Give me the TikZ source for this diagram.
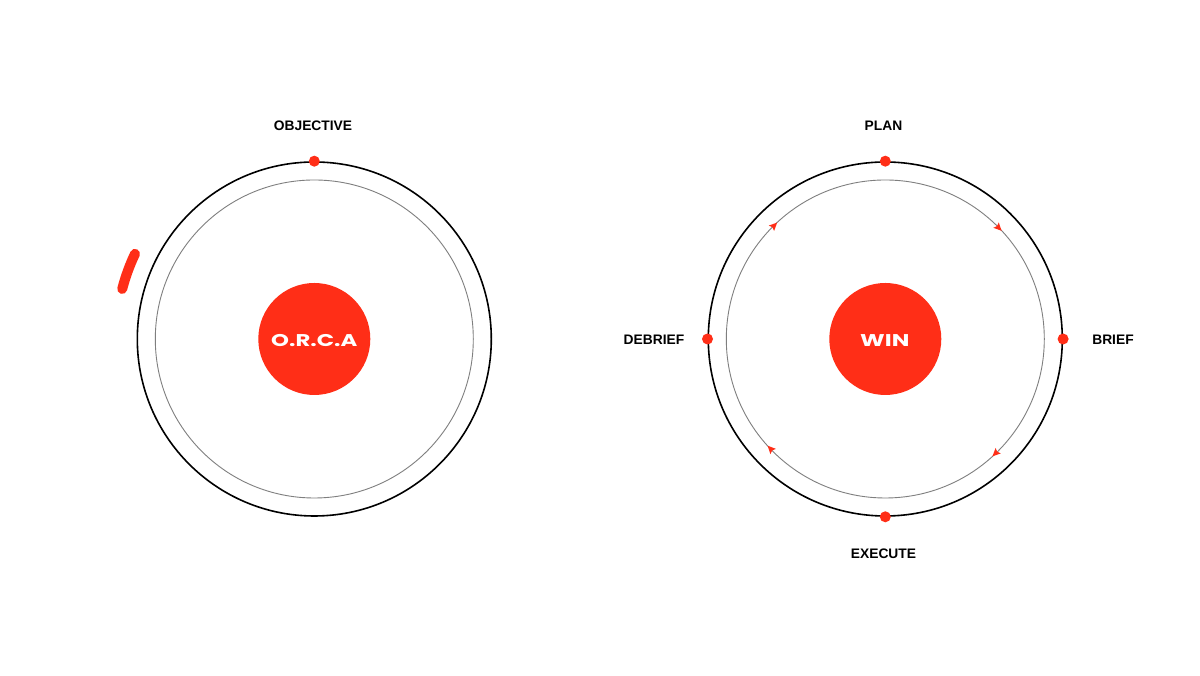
\documentclass[tikz,border=0pt]{standalone}
\usepackage{fontspec}
\usetikzlibrary{calc}
\setmainfont{Liberation Sans}
\newfontfamily\hubfont{Poppins}
\definecolor{orcared}{HTML}{FF2E17}
\definecolor{ringgrey}{HTML}{7F7F7F}
\tikzset{
  outerring/.style={circle,draw=black,line width=1.6pt,minimum size=354pt,inner sep=0pt,fill=none},
  innerring/.style={circle,draw=ringgrey,line width=0.9pt,minimum size=318pt,inner sep=0pt,fill=none},
  hub/.style={circle,fill=orcared,minimum size=112pt,inner sep=0pt},
  hubtext/.style={text=white,inner sep=0pt,font=\hubfont\bfseries\fontsize{17}{19}\selectfont},
  marker/.style={circle,fill=orcared,minimum size=11pt,inner sep=0pt},
  caption/.style={font=\bfseries\fontsize{13.8}{16}\selectfont,text=black,inner sep=0pt},
  tip/.style={fill=orcared}
}
\begin{document}
\begin{tikzpicture}[x=1pt,y=1pt]
\useasboundingbox (0,0) rectangle (1200,676);
\fill[white] (0,0) rectangle (1200,676);
% left diagram
\coordinate (lc) at (314.3,337);
\node[outerring] (louter) at (lc) {};
\node[innerring] (linner) at (lc) {};
\node[hub] (orcahub) at (lc) {};
\node[hubtext] (orca) at (314.3,335.8) {\scalebox{1.34}[1]{O.R.C.A}};
\node[marker] (ltop) at (louter.north) {};
\node[caption] (objective) at (313,550.5) {OBJECTIVE};
\draw[orcared,line width=10pt,line cap=round] ($(lc)+(154.6:198.5)$) arc[start angle=154.6,end angle=165.4,radius=198.5];
% right diagram
\coordinate (rc) at (885.3,337);
\node[outerring] (router) at (rc) {};
\node[innerring] (rinner) at (rc) {};
\node[hub] (winhub) at (rc) {};
\node[hubtext] (win) at (884.8,335.8) {\scalebox{1.38}[1]{WIN}};
\node[marker] (rtop) at (router.north) {};
\node[marker] (rright) at (router.east) {};
\node[marker] (rbottom) at (router.south) {};
\node[marker] (rleft) at (router.west) {};
\node[caption] (plan) at (883.5,550.5) {PLAN};
\node[caption] (brief) at (1113,336.5) {BRIEF};
\node[caption] (execute) at (883.5,122.5) {EXECUTE};
\node[caption] (debrief) at (654,336.5) {DEBRIEF};
\foreach \a in {44.5,134.5,223.8,314}{
  \fill[tip,shift={($(rc)+(\a:158.8)$)},rotate=\a-90] (4.4,0) -- (-3.6,3.8) -- (-2.2,0) -- (-3.6,-3.8) -- cycle;
}
\end{tikzpicture}
\end{document}
